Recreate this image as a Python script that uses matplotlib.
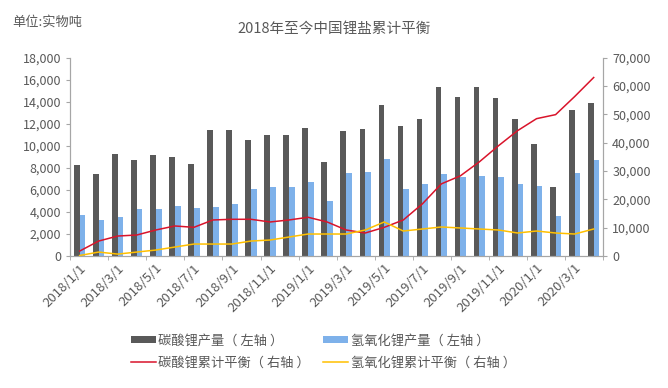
import numpy as np
import matplotlib
matplotlib.use('Agg')
import matplotlib.pyplot as plt
from matplotlib.ticker import FuncFormatter

plt.rcParams['font.family'] = ['Noto Sans CJK SC', 'DejaVu Sans']

# monthly data 2018/1 - 2020/4
months = ['%d/%d/1' % (2018 + i // 12, i % 12 + 1) for i in range(28)]
li2co3_output = [8300, 7480, 9300, 8750, 9200, 9030, 8390, 11490, 11490, 10580,
                 11030, 11030, 11670, 8570, 11400, 11580, 13680, 11850, 12490, 15320,
                 14410, 15320, 14320, 12490, 10210, 6290, 13220, 13860]
lioh_output = [3740, 3280, 3560, 4290, 4290, 4560, 4380, 4470, 4740, 6110,
               6290, 6290, 6750, 5020, 7570, 7660, 8850, 6110, 6570, 7480,
               7200, 7290, 7200, 6570, 6380, 3650, 7570, 8750]
li2co3_balance = [1770, 5310, 7080, 7440, 9210, 10630, 10150, 12750, 12990, 12990,
                  12040, 12750, 13700, 12040, 9210, 8150, 10150, 12750, 18420, 25500,
                  28340, 33300, 38960, 44270, 48520, 49940, 56320, 63050]
lioh_balance = [200, 1420, 700, 1420, 2130, 3190, 4250, 4250, 4250, 5310,
                5670, 6730, 7790, 7790, 7790, 9210, 12040, 8850, 9560, 10270,
                9920, 9560, 9210, 8150, 8850, 8150, 7790, 9560]

txt = '#595959'
fig = plt.figure(figsize=(6.68, 3.88), dpi=100)
ax = fig.add_axes([0.105, 0.340, 0.798, 0.511])
ax2 = ax.twinx()

x = np.arange(len(months))
w = 0.3
b1 = ax.bar(x - w / 2, li2co3_output, w, color='#595959', label='碳酸锂产量（ 左轴 ）')
b2 = ax.bar(x + w / 2, lioh_output, w, color='#7EB1EA', label='氢氧化锂产量（ 左轴 ）')
l1, = ax2.plot(x, li2co3_balance, color='#D9142B', lw=1.1, label='碳酸锂累计平衡（ 右轴 ）')
l2, = ax2.plot(x, lioh_balance, color='#FFC000', lw=1.1, label='氢氧化锂累计平衡（ 右轴 ）')

ax.set_xlim(-0.5, len(months) - 0.5)
ax.set_ylim(0, 18000)
ax.set_yticks(range(0, 18001, 2000))
ax2.set_ylim(0, 70000)
ax2.set_yticks(range(0, 70001, 10000))
fmt = FuncFormatter(lambda v, p: '{:,.0f}'.format(v))
ax.yaxis.set_major_formatter(fmt)
ax2.yaxis.set_major_formatter(fmt)

ax.set_xticks(x[::2])
ax.set_xticklabels(months[::2], rotation=45, ha='right', rotation_mode='anchor')
ax.set_xticks(np.arange(-0.5, len(months), 2), minor=True)

for a in (ax, ax2):
    for s in a.spines.values():
        s.set_color('#a6a6a6')
    a.spines['top'].set_visible(False)
    a.tick_params(colors=txt, labelsize=9, length=3, width=0.8)
    a.tick_params(axis='y', colors='#a6a6a6', labelcolor=txt)
ax.tick_params(axis='x', length=0, pad=4, labelsize=9.5)
ax.tick_params(axis='x', which='minor', length=3, color='#a6a6a6')

fig.text(0.018, 0.943, '单位:实物吨', fontsize=9.5, color=txt, va='center')
fig.text(0.50, 0.925, '2018年至今中国锂盐累计平衡', fontsize=10.5, color=txt,
         ha='center', va='center')

fig.legend(handles=[b1, l1, b2, l2], ncol=2, frameon=False, fontsize=9.5,
           labelcolor=txt, loc='center', bbox_to_anchor=(0.484, 0.093),
           handlelength=1.9, handleheight=0.5, columnspacing=1.0,
           labelspacing=0.7, handletextpad=0.2)

fig.savefig('out.png', dpi=100)
